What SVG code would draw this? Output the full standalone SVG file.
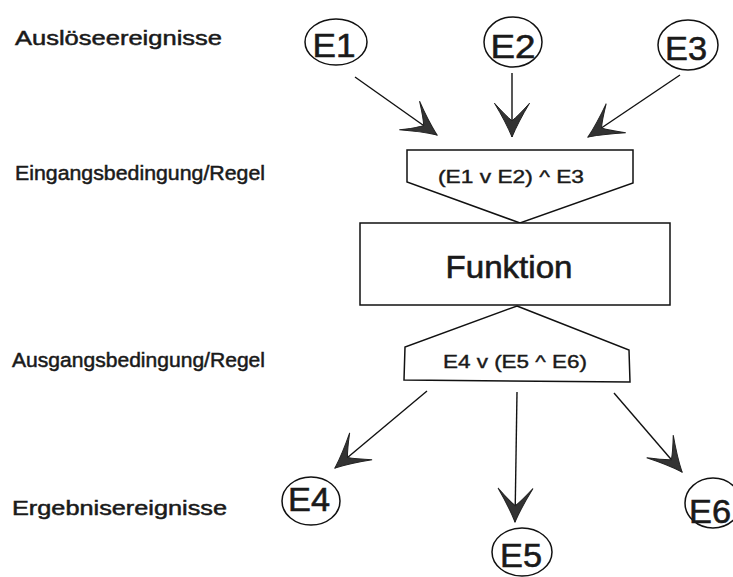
<svg xmlns="http://www.w3.org/2000/svg" width="733" height="577" viewBox="0 0 733 577">
<style>
.bg{fill:#fff}
.ev{fill:#fff;stroke:#111;stroke-width:1.5}
.evt{font-family:"Liberation Sans",Arial,sans-serif;font-size:34px;fill:#1a1a1a;stroke:#1a1a1a;stroke-width:0.6;text-anchor:middle}
.lbl{font-family:"Liberation Sans",Arial,sans-serif;font-size:20.5px;fill:#1a1a1a;stroke:#1a1a1a;stroke-width:0.5}
.box{fill:#fff;stroke:#111;stroke-width:1.5;stroke-linejoin:miter}
.rule{font-family:"Liberation Sans",Arial,sans-serif;font-size:18px;fill:#1a1a1a;stroke:#1a1a1a;stroke-width:0.4}
.fn{font-family:"Liberation Sans",Arial,sans-serif;font-size:31px;fill:#1a1a1a;stroke:#1a1a1a;stroke-width:0.6;text-anchor:middle}
.con{stroke:#111;stroke-width:1.4;fill:none;marker-end:url(#ah)}
</style>
<defs>
<marker id="ah" markerUnits="userSpaceOnUse" markerWidth="40" markerHeight="40" refX="0" refY="0" viewBox="-30 -16 32 32" orient="auto" overflow="visible">
<path d="M0,0 Q-12,-5 -27,-14 Q-17,-5 -13,0 Q-17,5 -27,14 Q-12,5 0,0 Z" fill="#333" stroke="#222" stroke-width="0.8"/>
</marker>
</defs>
<rect class="bg" x="0" y="0" width="733" height="577"/>

<g id="labels">
<text class="lbl" x="15" y="45" textLength="207" lengthAdjust="spacingAndGlyphs">Auslöseereignisse</text>
<text class="lbl" x="15" y="180" textLength="250" lengthAdjust="spacingAndGlyphs">Eingangsbedingung/Regel</text>
<text class="lbl" x="12" y="367" textLength="253" lengthAdjust="spacingAndGlyphs">Ausgangsbedingung/Regel</text>
<text class="lbl" x="12" y="515" textLength="215" lengthAdjust="spacingAndGlyphs">Ergebnisereignisse</text>
</g>

<g id="connectors">
<line class="con" x1="355" y1="77" x2="437" y2="135"/>
<line class="con" x1="512" y1="73" x2="512" y2="137"/>
<line class="con" x1="680" y1="75" x2="588" y2="137"/>
<line class="con" x1="427" y1="391" x2="335" y2="468"/>
<line class="con" x1="517" y1="392" x2="515" y2="522"/>
<line class="con" x1="614" y1="393" x2="682" y2="472"/>
</g>

<g id="E1"><ellipse class="ev" cx="336" cy="42" rx="31" ry="23"/><text class="evt" x="334" y="57" textLength="43" lengthAdjust="spacingAndGlyphs">E1</text></g>
<g id="E2"><ellipse class="ev" cx="513" cy="42" rx="29" ry="25"/><text class="evt" x="513" y="58" textLength="45" lengthAdjust="spacingAndGlyphs">E2</text></g>
<g id="E3"><ellipse class="ev" cx="688" cy="45" rx="30" ry="25"/><text class="evt" x="686" y="60" textLength="42" lengthAdjust="spacingAndGlyphs">E3</text></g>

<g id="eingang">
<path class="box" d="M407,150 L633,150 L633,183 L520,223 L407,182 Z"/>
<text class="rule" x="511" y="183" text-anchor="middle" textLength="146" lengthAdjust="spacingAndGlyphs">(E1 v E2) ^ E3</text>
</g>

<g id="funktion">
<rect class="box" x="360" y="223" width="310" height="82"/>
<text class="fn" x="509" y="278" textLength="127" lengthAdjust="spacingAndGlyphs">Funktion</text>
</g>

<g id="ausgang">
<path class="box" d="M517,306 L629,350 L630,382 L404,380 L405,347 Z"/>
<text class="rule" x="515" y="368" text-anchor="middle" textLength="144" lengthAdjust="spacingAndGlyphs">E4 v (E5 ^ E6)</text>
</g>

<g id="E4"><ellipse class="ev" cx="311" cy="501" rx="29" ry="24"/><text class="evt" x="309" y="511" textLength="42" lengthAdjust="spacingAndGlyphs">E4</text></g>
<g id="E5"><ellipse class="ev" cx="522" cy="552" rx="30" ry="24"/><text class="evt" x="521" y="567" textLength="42" lengthAdjust="spacingAndGlyphs">E5</text></g>
<g id="E6"><ellipse class="ev" cx="713" cy="503" rx="28" ry="25"/><text class="evt" x="710" y="523" textLength="42" lengthAdjust="spacingAndGlyphs">E6</text></g>
</svg>
